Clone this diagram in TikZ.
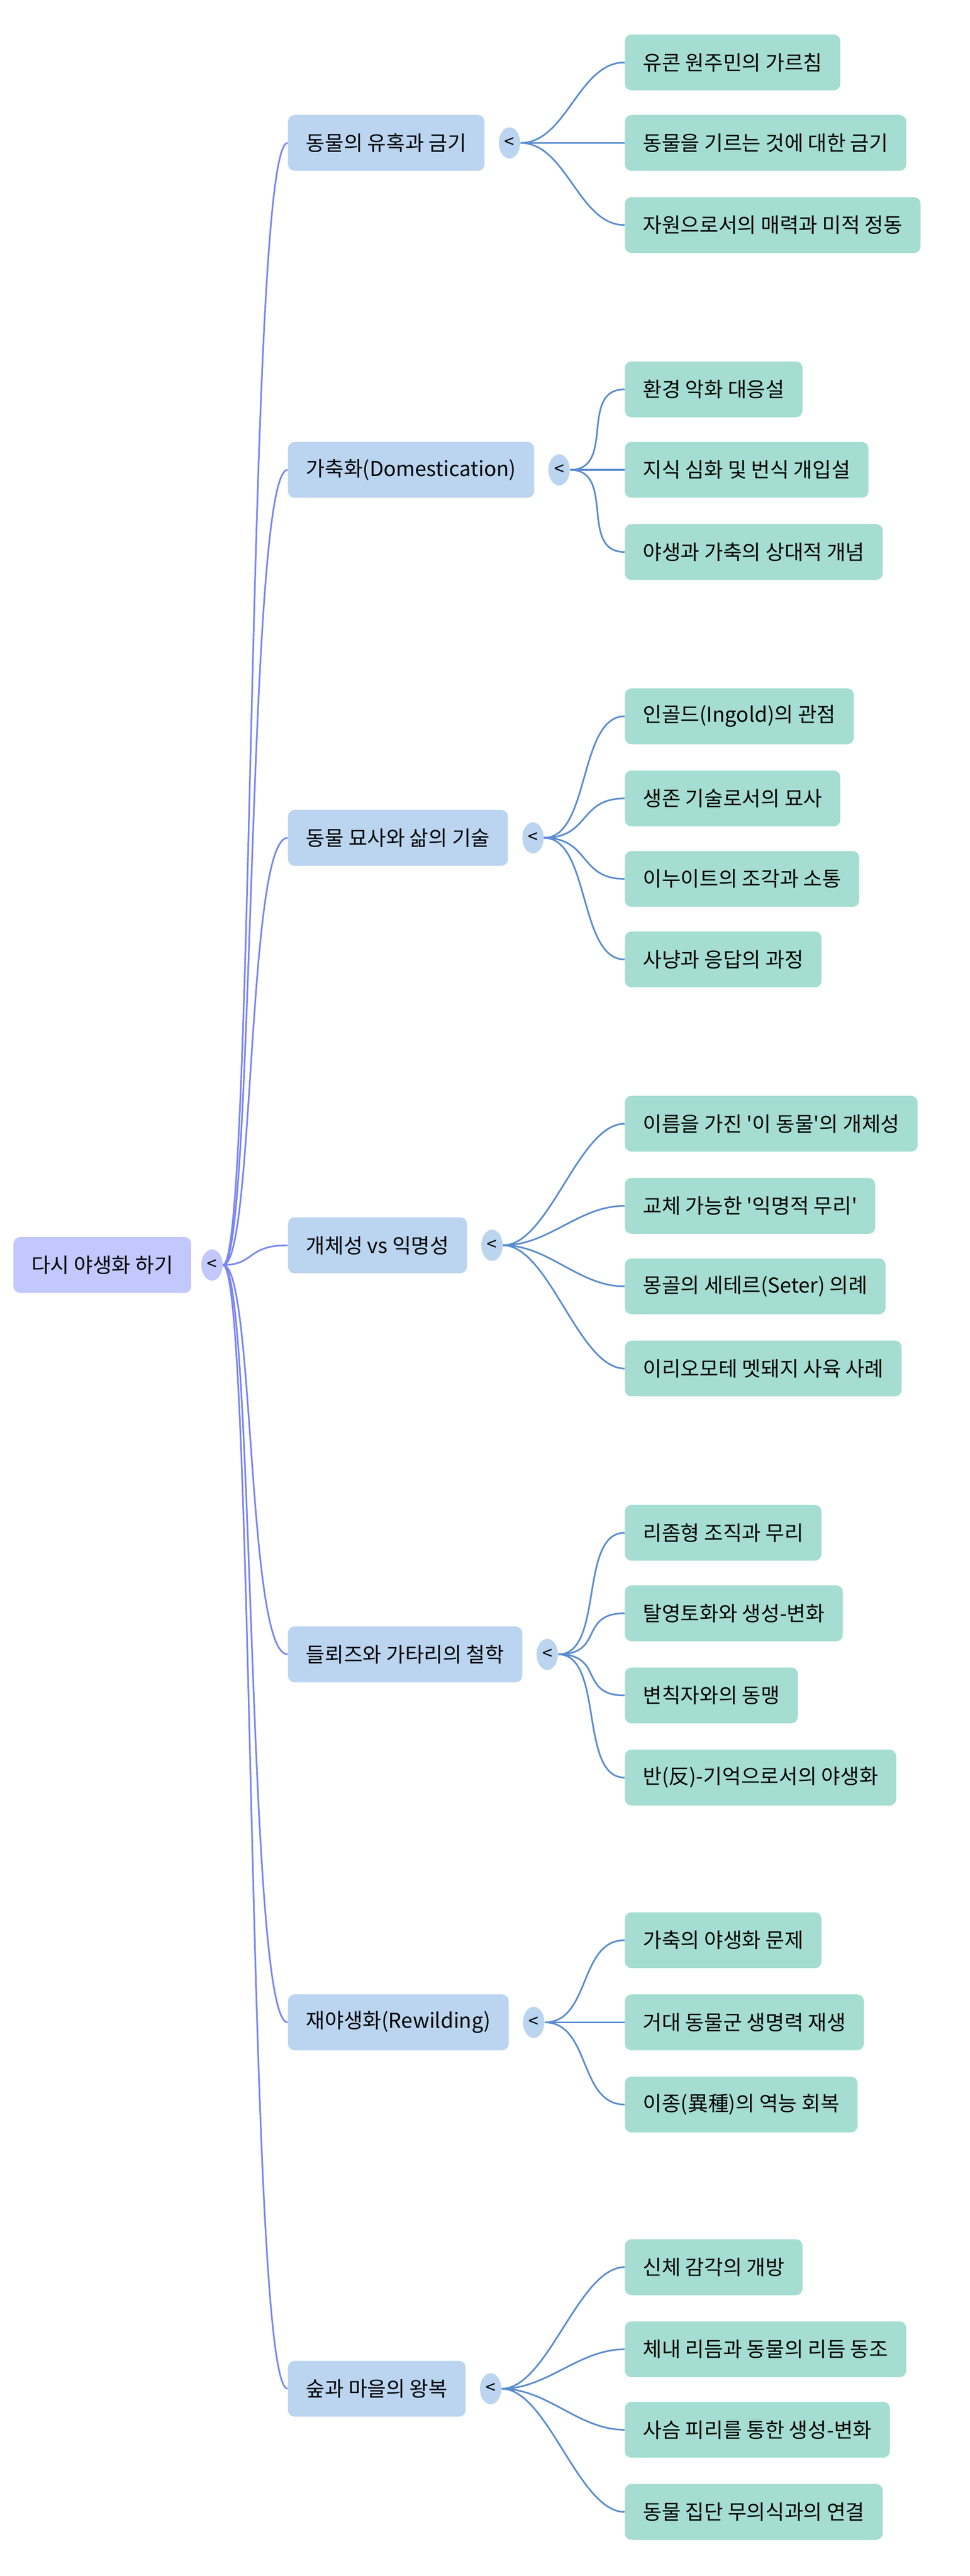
\documentclass[tikz,border=0pt]{standalone}
\usepackage{fontspec}
\setmainfont{Noto Sans CJK KR}[Ligatures=TeXOff]
\usetikzlibrary{shapes.geometric}
\definecolor{rootfill}{HTML}{C2C8FC}
\definecolor{midfill}{HTML}{BBD5F0}
\definecolor{leaffill}{HTML}{A5DDD2}
\definecolor{rootline}{HTML}{7A85F5}
\definecolor{midline}{HTML}{5A8CD0}
\tikzset{
  box/.style={rectangle,rounded corners=4pt,inner xsep=11pt,minimum height=34pt,font=\fontsize{12.5}{14}\selectfont,anchor=west},
  rootbox/.style={box,fill=rootfill},
  midbox/.style={box,fill=midfill},
  leafbox/.style={box,fill=leaffill},
  fold/.style={ellipse,inner sep=0pt,minimum width=13pt,minimum height=19pt,font=\fontsize{11}{12}\selectfont,fill=#1},
  rootedge/.style={draw=rootline,line width=1pt},
  midedge/.style={draw=midline,line width=1pt}
}
\begin{document}
\begin{tikzpicture}[x=1pt,y=-1pt]
\useasboundingbox (0,0) rectangle (590,1568);
%% root
\node[rootbox] (root) at (8,770) {다시 야생화 하기};
\node[fold=rootfill] (rootfold) at (129,770) {<};
%% first level
\node[midbox] (m1) at (175,87) {동물의 유혹과 금기};
\node[midbox] (m2) at (175,286) {가축화(Domestication)};
\node[midbox] (m3) at (175,510) {동물 묘사와 삶의 기술};
\node[midbox] (m4) at (175,758) {개체성 vs 익명성};
\node[midbox] (m5) at (175,1007) {들뢰즈와 가타리의 철학};
\node[midbox] (m6) at (175,1231) {재야생화(Rewilding)};
\node[midbox] (m7) at (175,1454) {숲과 마을의 왕복};
\foreach \i in {1,...,7}{
  \node[fold=midfill] (f\i) at ([xshift=15pt]m\i.east) {<};
  \draw[rootedge] (rootfold.east) .. controls (155,770) and (150,0|-m\i.west) .. (m\i.west);
}
%% leaves
\node[leafbox] (l11) at (380,38) {유콘 원주민의 가르침};
\node[leafbox] (l12) at (380,87) {동물을 기르는 것에 대한 금기};
\node[leafbox] (l13) at (380,137) {자원으로서의 매력과 미적 정동};
\node[leafbox] (l21) at (380,237) {환경 악화 대응설};
\node[leafbox] (l22) at (380,286) {지식 심화 및 번식 개입설};
\node[leafbox] (l23) at (380,336) {야생과 가축의 상대적 개념};
\node[leafbox] (l31) at (380,436) {인골드(Ingold)의 관점};
\node[leafbox] (l32) at (380,486) {생존 기술로서의 묘사};
\node[leafbox] (l33) at (380,535) {이누이트의 조각과 소통};
\node[leafbox] (l34) at (380,584) {사냥과 응답의 과정};
\node[leafbox] (l41) at (380,684) {이름을 가진 '이 동물'의 개체성};
\node[leafbox] (l42) at (380,734) {교체 가능한 '익명적 무리'};
\node[leafbox] (l43) at (380,783) {몽골의 세테르(Seter) 의례};
\node[leafbox] (l44) at (380,833) {이리오모테 멧돼지 사육 사례};
\node[leafbox] (l51) at (380,933) {리좀형 조직과 무리};
\node[leafbox] (l52) at (380,982) {탈영토화와 생성-변화};
\node[leafbox] (l53) at (380,1032) {변칙자와의 동맹};
\node[leafbox] (l54) at (380,1082) {반(反)-기억으로서의 야생화};
\node[leafbox] (l61) at (380,1181) {가축의 야생화 문제};
\node[leafbox] (l62) at (380,1231) {거대 동물군 생명력 재생};
\node[leafbox] (l63) at (380,1281) {이종(異種)의 역능 회복};
\node[leafbox] (l71) at (380,1380) {신체 감각의 개방};
\node[leafbox] (l72) at (380,1430) {체내 리듬과 동물의 리듬 동조};
\node[leafbox] (l73) at (380,1479) {사슴 피리를 통한 생성-변화};
\node[leafbox] (l74) at (380,1529) {동물 집단 무의식과의 연결};
\foreach \p/\c in {1/1,1/2,1/3,2/1,2/2,2/3,3/1,3/2,3/3,3/4,4/1,4/2,4/3,4/4,
                   5/1,5/2,5/3,5/4,6/1,6/2,6/3,7/1,7/2,7/3,7/4}{
  \draw[midedge] (f\p.east) .. controls ([xshift=28pt]f\p.east) and ([xshift=-28pt]l\p\c.west) .. (l\p\c.west);
}
\end{tikzpicture}
\end{document}
